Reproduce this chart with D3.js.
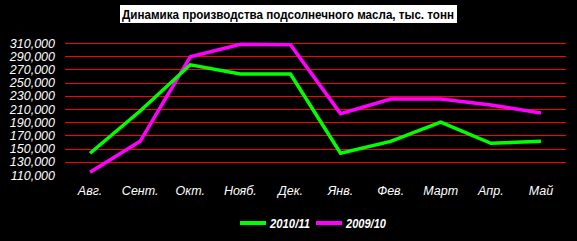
<!DOCTYPE html>
<html>
<head>
<meta charset="utf-8">
<script src="https://cdn.jsdelivr.net/npm/d3@7"></script>
<style>
  body { margin: 0; background: #000; }
  svg { display: block; }
</style>
</head>
<body>
<div id="chart"></div>
<script>
// Data
const months = ['Авг.', 'Сент.', 'Окт.', 'Нояб.', 'Дек.', 'Янв.', 'Фев.', 'Март', 'Апр.', 'Май'];
const season1011 = [143000, 207000, 277000, 263000, 263000, 143000, 161000, 190000, 158000, 161000];
const season0910 = [114000, 161000, 289000, 308000, 307500, 203000, 225000, 225000, 216000, 204000];
const yTicks = [110000, 130000, 150000, 170000, 190000, 210000, 230000, 250000, 270000, 290000, 310000];
const seriesNames = ['2010/11', '2009/10'];
const title = 'Динамика производства подсолнечного масла, тыс. тонн';

function renderChart() {
  const width = 577, height = 241;
  const margin = { top: 43, right: 11, bottom: 66, left: 65 };
  const plotW = width - margin.left - margin.right;
  const plotH = height - margin.top - margin.bottom;

  const svg = d3.select('#chart')
    .append('svg')
    .attr('width', width)
    .attr('height', height)
    .style('background', '#000');

  // Title box
  const titleG = svg.append('g');
  titleG.append('rect')
    .attr('x', 120).attr('y', 5)
    .attr('width', 337).attr('height', 18)
    .attr('fill', '#fff');
  titleG.append('text')
    .attr('x', 122).attr('y', 19)
    .attr('textLength', 332)
    .attr('lengthAdjust', 'spacingAndGlyphs')
    .style('font-family', '"Liberation Sans Narrow", "Liberation Sans", Arial, sans-serif')
    .style('font-weight', 'bold')
    .style('font-size', '13px')
    .attr('fill', '#000')
    .text(title);

  const g = svg.append('g')
    .attr('transform', `translate(${margin.left},${margin.top})`);

  const x = d3.scaleBand()
    .domain(months)
    .range([0, plotW]);

  const y = d3.scaleLinear()
    .domain([110000, 310000])
    .range([plotH, 0]);

  // Red gridlines
  g.append('g')
    .selectAll('line')
    .data(yTicks.filter(d => d > 110000))
    .enter()
    .append('line')
    .attr('x1', 0)
    .attr('x2', plotW)
    .attr('y1', d => Math.round(y(d)) + 0.5)
    .attr('y2', d => Math.round(y(d)) + 0.5)
    .attr('stroke', '#ff0000')
    .attr('stroke-width', 1);

  // Y axis
  const yAxis = g.append('g')
    .call(d3.axisLeft(y).tickValues(yTicks).tickFormat(d3.format(',')).tickSize(0).tickPadding(10));
  yAxis.select('.domain').remove();
  yAxis.selectAll('text')
    .attr('fill', '#fff')
    .style('font-family', '"Liberation Sans", Arial, sans-serif')
    .style('font-style', 'italic')
    .style('font-size', '12.5px');

  // X axis
  const xAxis = g.append('g')
    .attr('transform', `translate(0,${plotH})`)
    .call(d3.axisBottom(x).tickSize(0).tickPadding(11));
  xAxis.select('.domain').remove();
  xAxis.selectAll('text')
    .attr('fill', '#fff')
    .style('font-family', '"Liberation Sans", Arial, sans-serif')
    .style('font-style', 'italic')
    .style('font-size', '12.5px');

  const line = d3.line()
    .x((d, i) => x(months[i]) + x.bandwidth() / 2)
    .y(d => y(d));

  const series = [
    { name: seriesNames[0], values: season1011, color: '#00ff00' },
    { name: seriesNames[1], values: season0910, color: '#ff00ff' }
  ];

  g.selectAll('.series')
    .data(series.slice().reverse())
    .enter()
    .append('path')
    .attr('class', 'series')
    .attr('d', d => line(d.values))
    .attr('fill', 'none')
    .attr('stroke', d => d.color)
    .attr('stroke-width', 3.5)
    .attr('stroke-linejoin', 'miter');

  // Legend
  const legend = svg.append('g')
    .attr('transform', 'translate(240,223)');
  const item = legend.selectAll('g')
    .data(series)
    .enter()
    .append('g')
    .attr('transform', (d, i) => `translate(${i * 76},0)`);
  item.append('line')
    .attr('x1', 0).attr('x2', 26)
    .attr('y1', 0).attr('y2', 0)
    .attr('stroke', d => d.color)
    .attr('stroke-width', 4);
  item.append('text')
    .attr('x', 30).attr('y', 5)
    .attr('textLength', 40)
    .attr('lengthAdjust', 'spacingAndGlyphs')
    .attr('fill', '#fff')
    .style('font-family', '"Liberation Sans Narrow", "Liberation Sans", Arial, sans-serif')
    .style('font-weight', 'bold')
    .style('font-style', 'italic')
    .style('font-size', '13px')
    .text(d => d.name);
}

renderChart();
</script>
</body>
</html>
